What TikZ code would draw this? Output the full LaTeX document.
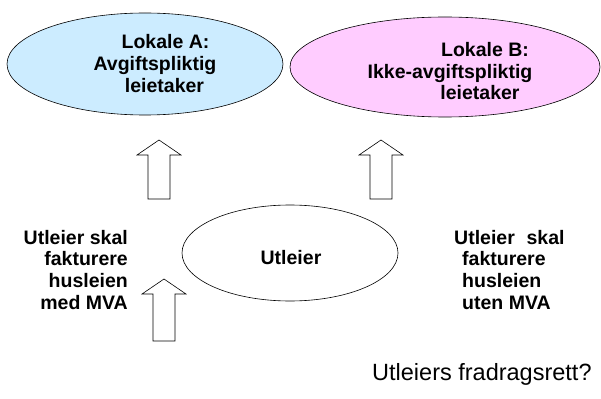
\documentclass[tikz,border=0pt]{standalone}
\usepackage{fontspec}
\setmainfont{Liberation Sans}
\begin{document}
\begin{tikzpicture}[x=1pt,y=-1pt,
  lbl/.style={font=\fontsize{19.5}{22}\selectfont\bfseries, inner sep=0pt},
  note/.style={font=\fontsize{23.5}{26}\selectfont, inner sep=0pt},
  pics/blockarrow/.style={code={
    \draw[black, line width=0.6pt, fill=white]
      (0,0) -- (22,15) -- (11,15) -- (11,#1) -- (-11,#1) -- (-11,15) -- (-22,15) -- cycle;
  }}
]
\useasboundingbox (0,0) rectangle (601,398);

% ellipses
\draw[line width=0.6pt, fill={rgb,255:red,204;green,236;blue,255}]
  (145,64) ellipse [x radius=138, y radius=51];
\draw[line width=0.6pt, fill={rgb,255:red,255;green,204;blue,255}]
  (445,67) ellipse [x radius=155, y radius=50];
\draw[line width=0.6pt, fill=white]
  (290,253) ellipse [x radius=108, y radius=48];

% text in the ellipses
\node[lbl, anchor=base] (a1) at (165.5,49) {Lokale A:};
\node[lbl, anchor=base] (a2) at (155,71) {Avgiftspliktig};
\node[lbl, anchor=base] (a3) at (164.5,93) {leietaker};

\node[lbl, anchor=base] (b1) at (485,57) {Lokale B:};
\node[lbl, anchor=base] (b2) at (450,79) {Ikke-avgiftspliktig};
\node[lbl, anchor=base] (b3) at (480,100) {leietaker};

\node[lbl, anchor=base] (u) at (291,264) {Utleier};

% block arrows
\pic at (159,140) {blockarrow=59};
\pic at (164,279) {blockarrow=62};
\pic at (381,140) {blockarrow=59};

% side notes
\node[lbl, anchor=base east] (l1) at (128,244) {Utleier skal};
\node[lbl, anchor=base east] (l2) at (128,265.7) {fakturere};
\node[lbl, anchor=base east] (l3) at (128,287.4) {husleien};
\node[lbl, anchor=base east] (l4) at (128,309) {med MVA};

\node[lbl, anchor=base west] (r1) at (454,244) {Utleier\hspace{0.6em}skal};
\node[lbl, anchor=base west] (r2) at (462,265.7) {fakturere};
\node[lbl, anchor=base west] (r3) at (462,287.4) {husleien};
\node[lbl, anchor=base west] (r4) at (462,309) {uten MVA};

\node[note, anchor=base west] (q) at (372,380) {Utleiers fradragsrett?};
\end{tikzpicture}
\end{document}
